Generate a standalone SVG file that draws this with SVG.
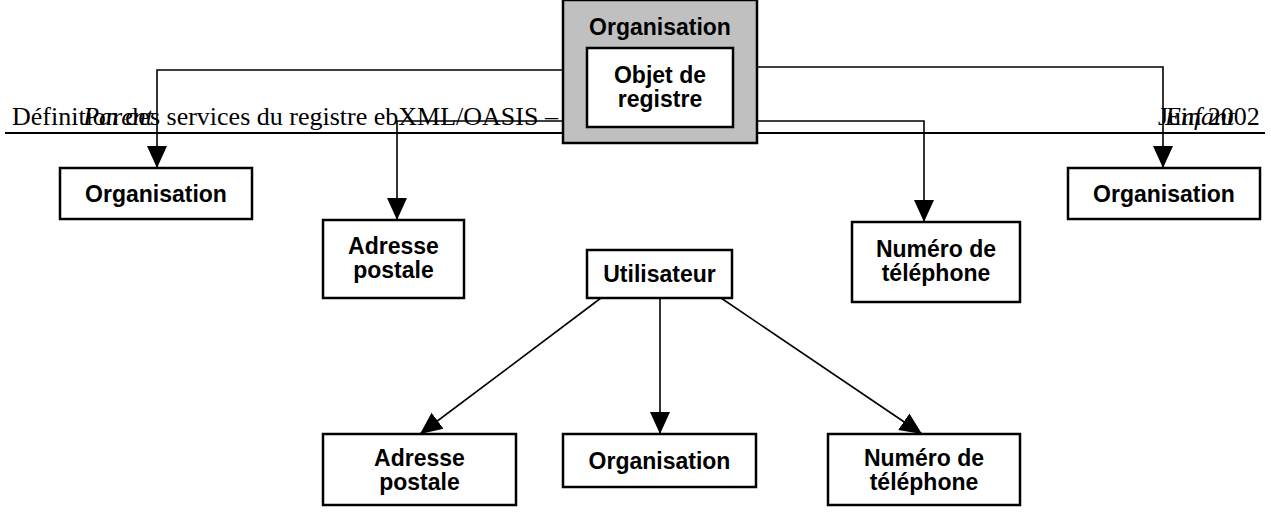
<svg xmlns="http://www.w3.org/2000/svg" width="1271" height="515" viewBox="0 0 1271 515">
<style>
.hdr{font-family:"Liberation Serif","Times New Roman",serif;font-size:26px;fill:#000}
.lbl{font-family:"Liberation Serif","Times New Roman",serif;font-size:26px;font-style:italic;fill:#000}
.box{fill:#fff;stroke:#000;stroke-width:2.5}
.grey{fill:#c0c0c0;stroke:#000;stroke-width:2.5}
.t{font-family:"Liberation Sans",Arial,sans-serif;font-weight:bold;font-size:23px;text-anchor:middle;fill:#000}
.c{fill:none;stroke:#000;stroke-width:1.6}
</style>
<defs>
<marker id="arr" viewBox="0 0 22 22" refX="22" refY="11" markerWidth="22" markerHeight="22" markerUnits="userSpaceOnUse" orient="auto">
<path d="M0,1 L22,11 L0,21 z" fill="#000"/>
</marker>
</defs>
<rect width="1271" height="515" fill="#fff"/>
<text class="hdr" x="12" y="125">Définition des services du registre ebXML/OASIS –</text>
<text class="hdr" x="1158" y="125">Juin 2002</text>
<line x1="5" y1="133" x2="1265" y2="133" stroke="#000" stroke-width="2"/>
<g id="connectors">
<path class="c" d="M563,70 H157 V168" marker-end="url(#arr)"/>
<path class="c" d="M563,121 H397 V220" marker-end="url(#arr)"/>
<path class="c" d="M757,67 H1163 V168" marker-end="url(#arr)"/>
<path class="c" d="M757,121 H924 V222" marker-end="url(#arr)"/>
<path class="c" d="M601,298 L420,434" marker-end="url(#arr)"/>
<path class="c" d="M660,298 V434" marker-end="url(#arr)"/>
<path class="c" d="M721,298 L922,434" marker-end="url(#arr)"/>
<text class="lbl" x="153" y="125" text-anchor="end">Parent</text>
<text class="lbl" x="1165" y="125">Enfant</text>
</g>
<g id="organisation-parent-box">
<rect class="grey" x="563" y="0" width="194" height="143"/>
<text class="t" x="660" y="35">Organisation</text>
</g>
<g id="objet-registre">
<rect class="box" x="587" y="48" width="146" height="79"/>
<text class="t" x="660" y="83">Objet de</text>
<text class="t" x="660" y="107">registre</text>
</g>
<g id="org-parent">
<rect class="box" x="60" y="168" width="192" height="51"/>
<text class="t" x="156" y="202">Organisation</text>
</g>
<g id="adresse-top">
<rect class="box" x="323" y="220" width="141" height="78"/>
<text class="t" x="393.5" y="254">Adresse</text>
<text class="t" x="393.5" y="278">postale</text>
</g>
<g id="numero-top">
<rect class="box" x="852" y="222" width="168" height="80"/>
<text class="t" x="936" y="257">Numéro de</text>
<text class="t" x="936" y="281">téléphone</text>
</g>
<g id="org-enfant">
<rect class="box" x="1068" y="168" width="192" height="51"/>
<text class="t" x="1164" y="202">Organisation</text>
</g>
<g id="utilisateur">
<rect class="box" x="587" y="250" width="145" height="48"/>
<text class="t" x="659.5" y="282">Utilisateur</text>
</g>
<g id="adresse-bottom">
<rect class="box" x="323" y="434" width="193" height="71"/>
<text class="t" x="419.5" y="466">Adresse</text>
<text class="t" x="419.5" y="490">postale</text>
</g>
<g id="org-bottom">
<rect class="box" x="563" y="434" width="193" height="53"/>
<text class="t" x="659.5" y="469">Organisation</text>
</g>
<g id="numero-bottom">
<rect class="box" x="828" y="434" width="192" height="71"/>
<text class="t" x="924" y="466">Numéro de</text>
<text class="t" x="924" y="490">téléphone</text>
</g>
</svg>
